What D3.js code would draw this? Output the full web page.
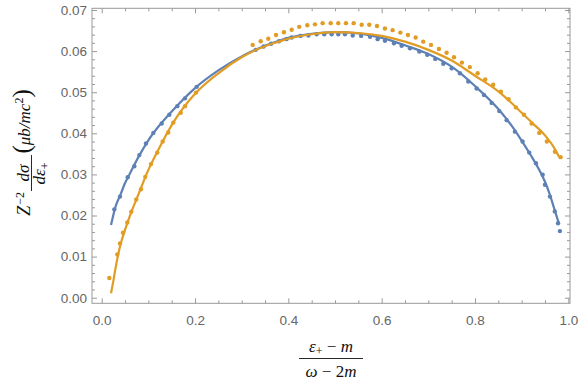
<!DOCTYPE html>
<html>
<head>
<meta charset="utf-8">
<script src="https://cdn.jsdelivr.net/npm/d3@7"></script>
<style>
  html, body { margin: 0; padding: 0; background: #fff; }
  svg { display: block; }
  .math { font-family: "Liberation Serif", "DejaVu Serif", serif; }
</style>
</head>
<body>
<div id="graph"></div>
<script>
// tick values
const xTicks = [0, 0.2, 0.4, 0.6, 0.8, 1.0];
const yTicks = [0, 0.01, 0.02, 0.03, 0.04, 0.05, 0.06, 0.07];

// blue theory curve
const blueCurveX = [0.02, 0.03, 0.04, 0.05, 0.06, 0.08, 0.10, 0.12, 0.15, 0.20, 0.25, 0.30, 0.35, 0.38, 0.40, 0.45, 0.50,
  0.55, 0.60, 0.65, 0.70, 0.75, 0.80, 0.85, 0.88, 0.90, 0.92, 0.94, 0.95, 0.96, 0.97, 0.98];
const blueCurveY = [0.0177, 0.0223, 0.0250, 0.0279, 0.0301, 0.0345, 0.0383, 0.0414, 0.0453, 0.0510, 0.0553, 0.0587, 0.0613, 0.0625, 0.0632, 0.0642, 0.0646,
  0.0643, 0.0632, 0.0614, 0.0593, 0.0562, 0.0515, 0.0459, 0.0416, 0.0382, 0.0346, 0.0306, 0.0282, 0.0252, 0.0216, 0.0180];

// orange theory curve
const orangeCurveX = [0.02, 0.025, 0.03, 0.04, 0.05, 0.06, 0.08, 0.10, 0.12, 0.15, 0.20, 0.25, 0.30, 0.35, 0.38, 0.40, 0.45, 0.50,
  0.55, 0.60, 0.65, 0.70, 0.75, 0.80, 0.85, 0.88, 0.90, 0.925, 0.95, 0.97, 0.98];
const orangeCurveY = [0.0011, 0.0041, 0.0074, 0.0128, 0.0165, 0.0198, 0.0255, 0.0311, 0.0357, 0.0420, 0.0496, 0.0546, 0.0585, 0.0612, 0.0623, 0.0630, 0.0641, 0.0646,
  0.0644, 0.0637, 0.0623, 0.0603, 0.0577, 0.0540, 0.0502, 0.0472, 0.0450, 0.0423, 0.0395, 0.0364, 0.0343];

// blue points
const blueDotsX = [0.027, 0.0392, 0.0557, 0.0699, 0.0806, 0.0949, 0.1106, 0.1286, 0.1449, 0.162, 0.1785, 0.2036,
  0.330, 0.347, 0.363, 0.380, 0.396, 0.407, 0.426, 0.443, 0.4607, 0.477, 0.4928, 0.507, 0.5213, 0.538, 0.556, 0.575,
  0.5914, 0.607, 0.6263, 0.6428, 0.6606, 0.6806, 0.6977, 0.7148, 0.732, 0.75, 0.7677, 0.7855, 0.8035, 0.8192,
  0.8357, 0.852, 0.8678, 0.8856, 0.902, 0.9162, 0.9306, 0.945, 0.950, 0.9606, 0.971, 0.978, 0.982];
const blueDotsY = [0.0215, 0.0246, 0.0293, 0.0320, 0.0347, 0.0375, 0.0401, 0.0424, 0.0445, 0.0466, 0.0485, 0.0513,
  0.0603, 0.0611, 0.0618, 0.0624, 0.0629, 0.0633, 0.0637, 0.0638, 0.0641, 0.0641, 0.0641, 0.0641, 0.0641, 0.0638, 0.0637, 0.0635,
  0.0629, 0.0625, 0.0619, 0.0613, 0.0607, 0.0599, 0.0591, 0.0581, 0.0569, 0.0558, 0.0546, 0.0526, 0.0509, 0.0493,
  0.0474, 0.0454, 0.0432, 0.0404, 0.0380, 0.0353, 0.0327, 0.0299, 0.0275, 0.0246, 0.0210, 0.0181, 0.0162];

// orange points
const orangeDotsX = [0.0163, 0.0334, 0.0392, 0.0456, 0.0549, 0.0634, 0.0741, 0.0842, 0.0934, 0.1056, 0.1191, 0.1307,
  0.1427, 0.1534, 0.1693, 0.1785, 0.2021,
  0.3236, 0.3407, 0.357, 0.3735, 0.3906, 0.4071, 0.4234, 0.4406, 0.457, 0.4735, 0.4907, 0.507, 0.5235, 0.54, 0.5571,
  0.5734, 0.5899, 0.607, 0.6235, 0.64, 0.6563, 0.6728, 0.6891, 0.7056, 0.7227, 0.7392, 0.755, 0.772, 0.789, 0.8057,
  0.822, 0.839, 0.8556, 0.872, 0.8877, 0.905, 0.9214, 0.9377, 0.954, 0.9713, 0.9835];
const orangeDotsY = [0.0048, 0.0105, 0.0132, 0.0158, 0.0183, 0.0209, 0.0239, 0.0264, 0.0294, 0.0325, 0.0353, 0.0380,
  0.0402, 0.0426, 0.0450, 0.0466, 0.0499,
  0.0615, 0.0624, 0.0630, 0.0639, 0.0646, 0.0652, 0.0659, 0.0663, 0.0665, 0.0668, 0.0668, 0.0668, 0.0668, 0.0668, 0.0664,
  0.0664, 0.0661, 0.0655, 0.0651, 0.0645, 0.0639, 0.0633, 0.0623, 0.0615, 0.0605, 0.0596, 0.0585, 0.0572, 0.0561, 0.0546,
  0.0531, 0.0518, 0.0501, 0.0483, 0.0463, 0.0445, 0.0424, 0.0401, 0.0380, 0.0355, 0.0342];

const blue = "#5e81b5";
const orange = "#e19c24";
const frameColor = "#999";
const labelColor = "#666";

const W = 581, H = 383;
const frame = { left: 92, right: 570, top: 8.3, bottom: 303.3 };

const svg = d3.select("#graph").append("svg")
  .attr("width", W).attr("height", H)
  .attr("viewBox", `0 0 ${W} ${H}`);

const x = d3.scaleLinear().domain([-0.0208, 1.0036]).range([frame.left, frame.right]);
const y = d3.scaleLinear().domain([-0.00136, 0.07041]).range([frame.bottom, frame.top]);

const xMinor = d3.range(0, 1.001, 0.05).filter(v => Math.abs(v * 5 - Math.round(v * 5)) > 1e-6);
const yMinor = d3.range(0, 0.0701, 0.002).filter(v => Math.abs(v * 100 - Math.round(v * 100)) > 1e-6);

function styleAxis(g) {
  g.select(".domain").remove();
  g.selectAll(".tick line").attr("stroke", frameColor).attr("stroke-width", 1);
  g.selectAll(".tick text").attr("fill", labelColor)
    .attr("font-family", "Liberation Sans, Arial, sans-serif").attr("font-size", 13.5);
}

// bottom
svg.append("g").attr("transform", `translate(0,${frame.bottom})`)
  .call(d3.axisBottom(x).tickValues(xTicks).tickSize(-5).tickPadding(12).tickFormat(d3.format(".1f")))
  .call(styleAxis);
svg.append("g").attr("transform", `translate(0,${frame.bottom})`)
  .call(d3.axisBottom(x).tickValues(xMinor).tickSize(-3).tickFormat(""))
  .call(styleAxis);
// top
svg.append("g").attr("transform", `translate(0,${frame.top})`)
  .call(d3.axisTop(x).tickValues(xTicks).tickSize(-5).tickFormat(""))
  .call(styleAxis);
svg.append("g").attr("transform", `translate(0,${frame.top})`)
  .call(d3.axisTop(x).tickValues(xMinor).tickSize(-3).tickFormat(""))
  .call(styleAxis);
// left
svg.append("g").attr("transform", `translate(${frame.left},0)`)
  .call(d3.axisLeft(y).tickValues(yTicks).tickSize(-5).tickPadding(5).tickFormat(d3.format(".2f")))
  .call(styleAxis);
svg.append("g").attr("transform", `translate(${frame.left},0)`)
  .call(d3.axisLeft(y).tickValues(yMinor).tickSize(-3).tickFormat(""))
  .call(styleAxis);
// right
svg.append("g").attr("transform", `translate(${frame.right},0)`)
  .call(d3.axisRight(y).tickValues(yTicks).tickSize(-5).tickFormat(""))
  .call(styleAxis);
svg.append("g").attr("transform", `translate(${frame.right},0)`)
  .call(d3.axisRight(y).tickValues(yMinor).tickSize(-3).tickFormat(""))
  .call(styleAxis);

svg.append("rect")
  .attr("x", frame.left).attr("y", frame.top)
  .attr("width", frame.right - frame.left).attr("height", frame.bottom - frame.top)
  .attr("fill", "none").attr("stroke", frameColor).attr("stroke-width", 1);

// data marks
const plot = svg.append("g");

function drawDots(xs, ys, color) {
  plot.append("g").selectAll("circle")
    .data(xs.map((d, i) => [d, ys[i]]))
    .enter().append("circle")
    .attr("cx", d => x(d[0]))
    .attr("cy", d => y(d[1]))
    .attr("r", 2.2)
    .attr("fill", color);
}

function drawCurve(xs, ys, color) {
  const line = d3.line().x(d => x(d[0])).y(d => y(d[1])).curve(d3.curveMonotoneX);
  plot.append("path")
    .datum(xs.map((d, i) => [d, ys[i]]))
    .attr("d", line)
    .attr("fill", "none")
    .attr("stroke", color)
    .attr("stroke-width", 2.2);
}

drawDots(blueDotsX, blueDotsY, blue);
drawDots(orangeDotsX, orangeDotsY, orange);
drawCurve(blueCurveX, blueCurveY, blue);
drawCurve(orangeCurveX, orangeCurveY, orange);

// axis labels (math)
function mtext(parent) {
  return parent.append("text").attr("class", "math").attr("fill", "#111");
}

// x label: fraction
const xl = svg.append("g");
const num = mtext(xl).attr("x", 331).attr("y", 352).attr("text-anchor", "middle").attr("font-size", 17);
num.append("tspan").attr("font-style", "italic").text("ε");
num.append("tspan").attr("dy", 3).attr("font-size", 12).text("+");
num.append("tspan").attr("dy", -3).text(" − ");
num.append("tspan").attr("font-style", "italic").text("m");
xl.append("line").attr("x1", 299).attr("x2", 363).attr("y1", 358.5).attr("y2", 358.5)
  .attr("stroke", "#111").attr("stroke-width", 0.9);
const den = mtext(xl).attr("x", 331).attr("y", 376.5).attr("text-anchor", "middle").attr("font-size", 17);
den.append("tspan").attr("font-style", "italic").text("ω");
den.append("tspan").text(" − 2");
den.append("tspan").attr("font-style", "italic").text("m");

// y label, rotated
const yl = svg.append("g").attr("transform", "rotate(-90)");
const zt = mtext(yl).attr("x", -192).attr("y", 30).attr("text-anchor", "end").attr("font-size", 18);
zt.append("tspan").attr("font-style", "italic").text("Z");
zt.append("tspan").attr("dy", -6).attr("dx", 1).attr("font-size", 12).text("−2");
mtext(yl).attr("x", -173).attr("y", 28.5).attr("text-anchor", "middle")
  .attr("font-size", 17).attr("font-style", "italic").text("dσ");
yl.append("line").attr("x1", -191).attr("x2", -155).attr("y1", 31.5).attr("y2", 31.5)
  .attr("stroke", "#111").attr("stroke-width", 0.9);
const dd = mtext(yl).attr("x", -173.5).attr("y", 45).attr("text-anchor", "middle").attr("font-size", 17);
dd.append("tspan").attr("font-style", "italic").text("dε");
dd.append("tspan").attr("dy", 3.5).attr("font-size", 12).text("+");
const unit = mtext(yl).attr("x", -153.5).attr("y", 30);
unit.append("tspan").attr("font-size", 25).attr("dy", 0).text("(");
unit.append("tspan").attr("font-size", 17).attr("font-style", "italic").text("μb/mc");
unit.append("tspan").attr("font-size", 12).attr("dy", -7).text("2");
unit.append("tspan").attr("font-size", 25).attr("dy", 7).text(")");
</script>
</body>
</html>
